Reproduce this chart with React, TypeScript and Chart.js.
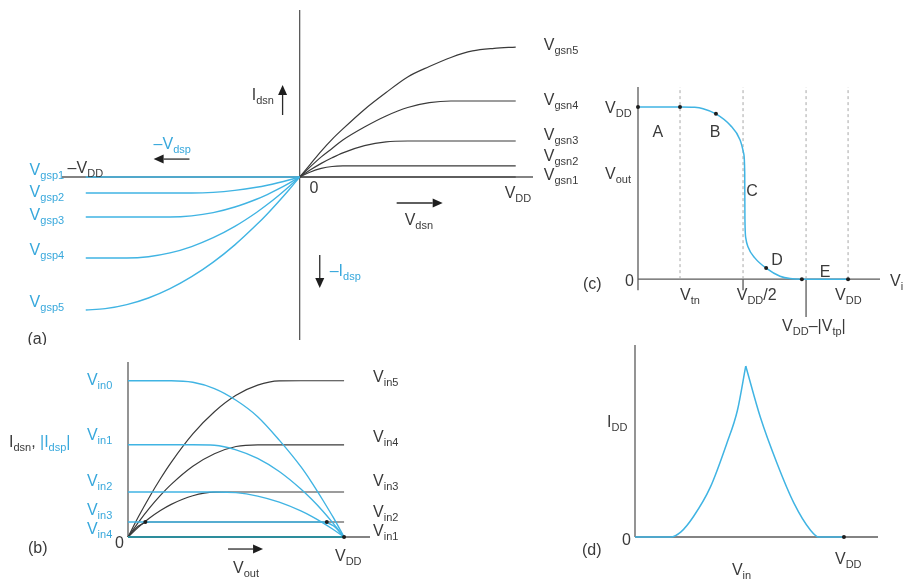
import { useEffect, useRef } from 'react';
import { Chart, registerables } from 'chart.js';

Chart.register(...registerables);

// ---------- (a) output characteristics, nMOS right / pMOS left ----------
const vdsN = [0, 0.05, 0.1, 0.15, 0.2, 0.3, 0.4, 0.5, 0.6, 0.7, 0.8, 0.9, 1.0];
const idsN5 = [0, 0.1, 0.2, 0.29, 0.37, 0.52, 0.65, 0.77, 0.85, 0.92, 0.97, 0.99, 1.0];
const idsN4 = [0, 0.08, 0.155, 0.22, 0.285, 0.385, 0.47, 0.535, 0.572, 0.585, 0.585, 0.585, 0.585];
const idsN3 = [0, 0.055, 0.105, 0.148, 0.186, 0.241, 0.271, 0.277, 0.277, 0.277, 0.277, 0.277, 0.277];
const idsN2 = [0, 0.039, 0.066, 0.081, 0.085, 0.085, 0.085, 0.085, 0.085, 0.085, 0.085, 0.085, 0.085];
const idsN1 = [0, 0, 0, 0, 0, 0, 0, 0, 0, 0, 0, 0, 0];

const vdsP = [-0.99, -0.9, -0.8, -0.7, -0.6, -0.5, -0.4, -0.3, -0.2, -0.15, -0.1, -0.05, 0];
const idsP5 = [-1.023, -1.013, -0.982, -0.931, -0.859, -0.767, -0.655, -0.522, -0.368, -0.284, -0.194, -0.1, 0];
const idsP4 = [-0.623, -0.623, -0.623, -0.613, -0.584, -0.535, -0.467, -0.38, -0.273, -0.212, -0.146, -0.075, 0];
const idsP3 = [-0.308, -0.308, -0.308, -0.308, -0.308, -0.299, -0.274, -0.231, -0.171, -0.135, -0.094, -0.049, 0];
const idsP2 = [-0.123, -0.123, -0.123, -0.123, -0.123, -0.123, -0.118, -0.103, -0.079, -0.063, -0.044, -0.023, 0];
const idsP1 = [0, 0, 0, 0, 0, 0, 0, 0, 0, 0, 0, 0, 0];

const gsnNames = ['gsn1', 'gsn2', 'gsn3', 'gsn4', 'gsn5'];
const gsnLabelY = [0.023, 0.165, 0.33, 0.6, 1.023];
const gspNames = ['gsp1', 'gsp2', 'gsp3', 'gsp4', 'gsp5'];
const gspLabelY = [0.062, -0.108, -0.285, -0.554, -0.954];

// ---------- (b) load-line view: nMOS (black) and pMOS (blue) vs Vout ----------
const vout = [0, 0.05, 0.1, 0.15, 0.2, 0.3, 0.4, 0.5, 0.6, 0.7, 0.8, 0.85, 0.9, 0.95, 1.0];
const nIn5 = [0, 0.134, 0.258, 0.373, 0.478, 0.66, 0.802, 0.907, 0.972, 0.999, 1, 1, 1, 1, 1];
const nIn4 = [0, 0.097, 0.186, 0.266, 0.337, 0.453, 0.533, 0.579, 0.59, 0.59, 0.59, 0.59, 0.59, 0.59, 0.59];
const nIn3 = [0, 0.065, 0.121, 0.169, 0.209, 0.264, 0.287, 0.288, 0.288, 0.288, 0.288, 0.288, 0.288, 0.288, 0.288];
const nIn2 = [0, 0.072, 0.096, 0.096, 0.096, 0.096, 0.096, 0.096, 0.096, 0.096, 0.096, 0.096, 0.096, 0.096, 0.096];
const nIn1 = [0, 0, 0, 0, 0, 0, 0, 0, 0, 0, 0, 0, 0, 0, 0];
const pIn0 = [1, 1, 1, 1, 1, 0.99, 0.95, 0.875, 0.77, 0.62, 0.45, 0.35, 0.24, 0.125, 0];
const pIn1 = [0.59, 0.59, 0.59, 0.59, 0.59, 0.59, 0.587, 0.558, 0.503, 0.419, 0.307, 0.241, 0.168, 0.087, 0];
const pIn2 = [0.288, 0.288, 0.288, 0.288, 0.288, 0.288, 0.288, 0.284, 0.262, 0.223, 0.167, 0.132, 0.092, 0.048, 0];
const pIn3 = [0.096, 0.096, 0.096, 0.096, 0.096, 0.096, 0.096, 0.096, 0.096, 0.096, 0.096, 0.096, 0.096, 0.072, 0];
const pIn4 = [0, 0, 0, 0, 0, 0, 0, 0, 0, 0, 0, 0, 0, 0, 0];
const bDotsX = [0.08, 0.92, 1.0];
const bDotsY = [0.096, 0.096, 0];

const inLeftNames = ['in0', 'in1', 'in2', 'in3', 'in4'];
const inLeftY = [1.013, 0.66, 0.365, 0.18, 0.058];
const inRightNames = ['in5', 'in4', 'in3', 'in2', 'in1'];
const inRightY = [1.026, 0.647, 0.365, 0.167, 0.045];

// ---------- (c) inverter transfer curve ----------
const vinC = [0, 0.2, 0.27, 0.31, 0.371, 0.438, 0.486, 0.503, 0.508, 0.509, 0.513, 0.524, 0.557, 0.61, 0.676, 0.724, 0.78, 1.0];
const voutC = [1, 1, 0.998, 0.99, 0.96, 0.895, 0.808, 0.73, 0.62, 0.35, 0.24, 0.186, 0.122, 0.064, 0.017, 0.003, 0, 0];
const cDotsX = [0, 0.2, 0.371, 0.61, 0.78, 1.0];
const cDotsY = [1, 1, 0.96, 0.064, 0, 0];
const cGuides = [0.2, 0.5, 0.8, 1.0];
const regionNames = ['A', 'B', 'C', 'D', 'E'];
const regionX = [0.095, 0.367, 0.543, 0.662, 0.89];
const regionY = [0.86, 0.86, 0.517, 0.116, 0.047];

// ---------- (d) supply current vs input voltage ----------
const vinRise = [0, 0.17, 0.22, 0.28, 0.36, 0.44, 0.49, 0.53];
const iddRise = [0, 0, 0.03, 0.12, 0.29, 0.55, 0.74, 1.0];
const vinFall = [0.53, 0.6, 0.68, 0.76, 0.84, 0.88, 1.0];
const iddFall = [1.0, 0.7, 0.43, 0.2, 0.04, 0, 0];

const BLUE = '#40b4e3';
const BLUE_TEXT = '#38a8dc';
const INK = '#3a3a3a';
const AXIS = '#5a5a5a';
const TEAL = '#2d8d9c';
const FONT = '"Liberation Sans", Arial, Helvetica, sans-serif';

type Seg = [string, string];
type Tag = { x: number; y: number; text: string | Seg[]; color?: string; align?: 'left' | 'center' };
type Arrow = { from: [number, number]; to: [number, number] };

type PanelSpec = {
  left: number; top: number; w: number; h: number;
  padding: { left: number; right: number; top: number; bottom: number };
  x: [number, number]; y: [number, number];
  datasets: any[];
  tags: Tag[];
  arrows: Arrow[];
};

const pts = (xs: number[], ys: number[]) => xs.map((x, i) => ({ x, y: ys[i] }));

const curve = (xs: number[], ys: number[], color: string, width: number, order: number) => ({
  data: pts(xs, ys), showLine: true, borderColor: color, borderWidth: width,
  pointRadius: 0, fill: false, cubicInterpolationMode: 'monotone', order, clip: false,
});

const seg = (x1: number, y1: number, x2: number, y2: number, color: string, width: number, order: number, dash: number[] = []) => ({
  data: [{ x: x1, y: y1 }, { x: x2, y: y2 }], showLine: true, borderColor: color, borderWidth: width,
  borderDash: dash, pointRadius: 0, fill: false, tension: 0, order, clip: false,
});

const dots = (xs: number[], ys: number[]) => ({
  data: pts(xs, ys), showLine: false, pointRadius: 2, pointBackgroundColor: '#1e1e1e',
  pointBorderWidth: 0, order: 0, clip: false,
});

function parseRich(text: string, color: string): { t: string; sub: boolean; c: string }[] {
  return text.split(/(_\{[^}]*\})/).filter(Boolean).map((s) =>
    s.startsWith('_{') ? { t: s.slice(2, -1), sub: true, c: color } : { t: s, sub: false, c: color });
}

function drawTag(ctx: CanvasRenderingContext2D, px: number, py: number, tag: Tag) {
  const color = tag.color ?? INK;
  const parts = typeof tag.text === 'string'
    ? parseRich(tag.text, color)
    : tag.text.flatMap(([t, c]) => parseRich(t, c));
  const fMain = `16px ${FONT}`;
  const fSub = `11px ${FONT}`;
  let w = 0;
  for (const p of parts) { ctx.font = p.sub ? fSub : fMain; w += ctx.measureText(p.t).width; }
  let x = tag.align === 'center' ? px - w / 2 : px;
  const base = py + 5.8;
  ctx.textAlign = 'left';
  ctx.textBaseline = 'alphabetic';
  for (const p of parts) {
    ctx.font = p.sub ? fSub : fMain;
    ctx.fillStyle = p.c;
    ctx.fillText(p.t, x, p.sub ? base + 4 : base);
    x += ctx.measureText(p.t).width;
  }
}

function drawArrow(ctx: CanvasRenderingContext2D, x1: number, y1: number, x2: number, y2: number) {
  const ang = Math.atan2(y2 - y1, x2 - x1);
  const len = 10, half = 4.5;
  const bx = x2 - len * Math.cos(ang), by = y2 - len * Math.sin(ang);
  ctx.strokeStyle = '#2a2a2a';
  ctx.fillStyle = '#1e1e1e';
  ctx.lineWidth = 1.3;
  ctx.beginPath();
  ctx.moveTo(x1, y1);
  ctx.lineTo(bx, by);
  ctx.stroke();
  ctx.beginPath();
  ctx.moveTo(x2, y2);
  ctx.lineTo(bx + half * Math.sin(ang), by - half * Math.cos(ang));
  ctx.lineTo(bx - half * Math.sin(ang), by + half * Math.cos(ang));
  ctx.closePath();
  ctx.fill();
}

function makeNotes(spec: PanelSpec) {
  return {
    id: 'notes',
    afterDatasetsDraw(chart: any) {
      const ctx: CanvasRenderingContext2D = chart.ctx;
      const sx = chart.scales.x, sy = chart.scales.y;
      ctx.save();
      for (const a of spec.arrows) {
        drawArrow(ctx, sx.getPixelForValue(a.from[0]), sy.getPixelForValue(a.from[1]),
          sx.getPixelForValue(a.to[0]), sy.getPixelForValue(a.to[1]));
      }
      for (const t of spec.tags) drawTag(ctx, sx.getPixelForValue(t.x), sy.getPixelForValue(t.y), t);
      ctx.restore();
    },
  };
}

// ---------- panel definitions ----------
const panelA: PanelSpec = {
  left: 0, top: 0, w: 610, h: 345,
  padding: { left: 62, right: 77, top: 10, bottom: 5 },
  x: [-1.1, 1.08], y: [-1.254, 1.285],
  datasets: [
    seg(-1.1, 0, 1.08, 0, AXIS, 1.3, 10),
    seg(0, -1.254, 0, 1.285, AXIS, 1.3, 10),
    ...[idsN1, idsN2, idsN3, idsN4, idsN5].map((ys) => curve(vdsN, ys, INK, 1.2, 5)),
    ...[idsP1, idsP2, idsP3, idsP4, idsP5].map((ys) => curve(vdsP, ys, BLUE, 1.4, 4)),
  ],
  tags: [
    ...gsnNames.map((n, i) => ({ x: 1.13, y: gsnLabelY[i], text: `V_{${n}}` })),
    ...gspNames.map((n, i) => ({ x: -1.25, y: gspLabelY[i], text: `V_{${n}}`, color: BLUE_TEXT })),
    { x: -1.074, y: 0.077, text: '–V_{DD}' },
    { x: -0.676, y: 0.262, text: '–V_{dsp}', color: BLUE_TEXT },
    { x: -0.222, y: 0.638, text: 'I_{dsn}' },
    { x: 0.046, y: -0.08, text: '0' },
    { x: 0.949, y: -0.115, text: 'V_{DD}' },
    { x: 0.486, y: -0.323, text: 'V_{dsn}' },
    { x: 0.139, y: -0.715, text: '–I_{dsp}', color: BLUE_TEXT },
    { x: -1.26, y: -1.238, text: '(a)' },
  ],
  arrows: [
    { from: [-0.079, 0.477], to: [-0.079, 0.708] },
    { from: [-0.51, 0.138], to: [-0.676, 0.138] },
    { from: [0.449, -0.2], to: [0.662, -0.2] },
    { from: [0.093, -0.6], to: [0.093, -0.854] },
  ],
};

const panelB: PanelSpec = {
  left: 0, top: 345, w: 440, h: 235,
  padding: { left: 128, right: 70, top: 17, bottom: 43 },
  x: [0, 1.12], y: [0, 1.12],
  datasets: [
    seg(0, 0, 1.12, 0, AXIS, 1.3, 10),
    seg(0, 0, 0, 1.12, AXIS, 1.3, 10),
    ...[nIn1, nIn2, nIn3, nIn4, nIn5].map((ys) => curve(vout, ys, INK, 1.2, 5)),
    ...[pIn0, pIn1, pIn2, pIn3].map((ys) => curve(vout, ys, BLUE, 1.4, 4)),
    curve(vout, pIn4, TEAL, 1.8, 3),
    dots(bDotsX, bDotsY),
  ],
  tags: [
    ...inLeftNames.map((n, i) => ({ x: -0.19, y: inLeftY[i], text: `V_{${n}}`, color: BLUE_TEXT })),
    ...inRightNames.map((n, i) => ({ x: 1.134, y: inRightY[i], text: `V_{${n}}` })),
    { x: -0.551, y: 0.615, text: [['I_{dsn}, ', INK], ['|I_{dsp}|', BLUE_TEXT]] as Seg[] },
    { x: -0.06, y: -0.032, text: '0' },
    { x: -0.463, y: -0.064, text: '(b)' },
    { x: 0.958, y: -0.115, text: 'V_{DD}' },
    { x: 0.486, y: -0.192, text: 'V_{out}' },
  ],
  arrows: [{ from: [0.463, -0.077], to: [0.625, -0.077] }],
};

const panelC: PanelSpec = {
  left: 575, top: 60, w: 329, h: 285,
  padding: { left: 63, right: 24, top: 27, bottom: 28 },
  x: [0, 1.152], y: [-0.22, 1.116],
  datasets: [
    seg(0, 0, 1.152, 0, AXIS, 1.3, 10),
    seg(0, -0.064, 0, 1.116, AXIS, 1.3, 10),
    seg(0.5, 0, 0.5, -0.064, AXIS, 1.3, 10),
    seg(0.8, 0, 0.8, -0.22, AXIS, 1.3, 10),
    ...cGuides.map((g) => seg(g, 0, g, 1.116, '#a8a8a8', 1, 9, [3, 3])),
    curve(vinC, voutC, BLUE, 1.5, 4),
    dots(cDotsX, cDotsY),
  ],
  tags: [
    { x: -0.157, y: 0.997, text: 'V_{DD}' },
    { x: -0.157, y: 0.616, text: 'V_{out}' },
    { x: -0.062, y: -0.006, text: '0' },
    { x: -0.262, y: -0.023, text: '(c)' },
    ...regionNames.map((n, i) => ({ x: regionX[i], y: regionY[i], text: n, align: 'center' as const })),
    { x: 0.2, y: -0.087, text: 'V_{tn}' },
    { x: 0.47, y: -0.087, text: 'V_{DD}/2' },
    { x: 0.938, y: -0.087, text: 'V_{DD}' },
    { x: 0.686, y: -0.267, text: 'V_{DD}–|V_{tp}|' },
    { x: 1.2, y: -0.006, text: 'V_{in}' },
  ],
  arrows: [],
};

const panelD: PanelSpec = {
  left: 575, top: 340, w: 329, h: 240,
  padding: { left: 60, right: 26, top: 5, bottom: 43 },
  x: [0, 1.163], y: [0, 1.123],
  datasets: [
    seg(0, 0, 1.163, 0, AXIS, 1.3, 10),
    seg(0, 0, 0, 1.123, AXIS, 1.3, 10),
    curve(vinRise, iddRise, BLUE, 1.5, 4),
    curve(vinFall, iddFall, BLUE, 1.5, 4),
    dots([1.0], [0]),
  ],
  tags: [
    { x: -0.134, y: 0.678, text: 'I_{DD}' },
    { x: -0.062, y: -0.012, text: '0' },
    { x: -0.254, y: -0.07, text: '(d)' },
    { x: 0.957, y: -0.123, text: 'V_{DD}' },
    { x: 0.464, y: -0.187, text: 'V_{in}' },
  ],
  arrows: [],
};

function Panel({ spec }: { spec: PanelSpec }) {
  const ref = useRef<HTMLCanvasElement>(null);
  useEffect(() => {
    if (!ref.current) return;
    const chart = new Chart(ref.current, {
      type: 'scatter',
      data: { datasets: spec.datasets },
      options: {
        responsive: false,
        maintainAspectRatio: false,
        animation: false,
        events: [],
        layout: { padding: spec.padding },
        plugins: { legend: { display: false }, tooltip: { enabled: false } },
        scales: {
          x: { type: 'linear', min: spec.x[0], max: spec.x[1], display: false },
          y: { type: 'linear', min: spec.y[0], max: spec.y[1], display: false },
        },
      },
      plugins: [makeNotes(spec)],
    } as any);
    return () => chart.destroy();
  }, [spec]);
  return (
    <canvas
      ref={ref}
      width={spec.w}
      height={spec.h}
      style={{ position: 'absolute', left: spec.left, top: spec.top, width: spec.w, height: spec.h }}
    />
  );
}

export default function App() {
  return (
    <div style={{ position: 'fixed', left: 0, top: 0, width: 904, height: 580, background: '#fff', overflow: 'hidden' }}>
      <Panel spec={panelA} />
      <Panel spec={panelB} />
      <Panel spec={panelC} />
      <Panel spec={panelD} />
    </div>
  );
}
